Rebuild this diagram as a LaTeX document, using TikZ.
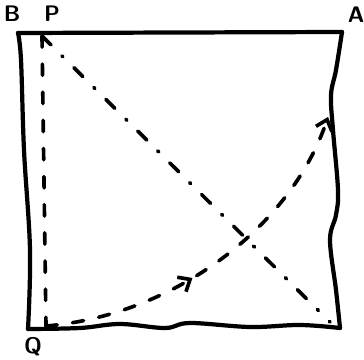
\documentclass[tikz,border=0pt]{standalone}
\usetikzlibrary{arrows.meta,decorations.markings}
\begin{document}
\begin{tikzpicture}[x=0.025cm, y=-0.025cm, line width=3pt, line cap=round, line join=round]
  \useasboundingbox (0,0) rectangle (364,360);
  \coordinate (B) at (18,33); \coordinate (P) at (42,36); \coordinate (A) at (342,32); \coordinate (Q) at (28,329); \coordinate (C) at (340,328);
  \coordinate (E) at (328,117); \coordinate (F) at (330,322); \coordinate (G) at (46,326);
  % 테두리
  \draw (B) -- (A);
  \draw plot[smooth, tension=0.6] coordinates {(A) (336,70) (331,95) (333,130) (338,190) (336,215) (330,240) (336,290) (C)};
  \draw plot[smooth, tension=0.6] coordinates {(C) (300,325) (250,327) (190,323) (165,328) (120,324) (80,328) (Q)};
  \draw plot[smooth, tension=0.6] coordinates {(Q) (30,250) (24,150) (21,60) (B)};
  % 점선
  \draw[line width=2.6pt, dash pattern=on 8pt off 12pt] (P) -- (G);
  \draw[line width=2.6pt, dash pattern=on 9pt off 11pt on 1pt off 11pt] (P) -- (F);
  \draw[line width=2.6pt, dash pattern=on 8pt off 11pt, -{Straight Barb[length=7pt,width=12pt]},
    postaction={decorate, decoration={markings, mark=at position 0.42 with {\arrow{Straight Barb[length=7pt,width=12pt]}}}}]
    (G) .. controls (170,316) and (290,230) .. (E);
  % 꼭짓점 이름
  \node[font=\sffamily\bfseries\fontsize{16}{18}\selectfont] at (12,14) {B};
  \node[font=\sffamily\bfseries\fontsize{16}{18}\selectfont] at (52,14) {P};
  \node[font=\sffamily\bfseries\fontsize{16}{18}\selectfont] at (356,15) {A};
  \node[font=\sffamily\bfseries\fontsize{16}{18}\selectfont] at (33,347) {Q};
\end{tikzpicture}
\end{document}
